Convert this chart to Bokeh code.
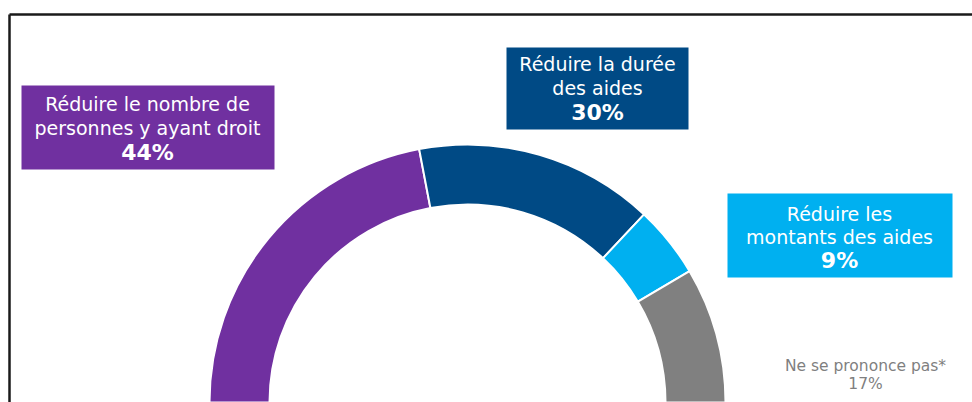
import math
from bokeh.plotting import figure
from bokeh.models import Range1d, ColumnDataSource
from bokeh.core.properties import value
from bokeh.embed import file_html
from bokeh.resources import INLINE

# ---- data ----
categories = ["Réduire le nombre de\npersonnes y ayant droit",
              "Réduire la durée\ndes aides",
              "Réduire les\nmontants des aides",
              "Ne se prononce pas*"]
shares = [44, 30, 9, 17]
pct_labels = ["44%", "30%", "9%", "17%"]
colors = ["#7030A0", "#004A85", "#00B0F0", "#808080"]

W, H = 972, 402
FONT = value("DejaVu Sans")

def px(X):  # reference pixel x -> data x
    return X

def py(Y):  # reference pixel y -> data y
    return H - Y

p = figure(width=W, height=H, output_backend="svg", toolbar_location=None,
           x_range=Range1d(0, W), y_range=Range1d(0, H), min_border=0)
p.axis.visible = False
p.grid.visible = False
p.outline_line_color = None
p.background_fill_color = "white"

# half donut
total = sum(shares)
starts, ends = [], []
cum = 0
for s in shares:
    ends.append(math.pi * (1 - cum / total))
    cum += s
    starts.append(math.pi * (1 - cum / total))
src = ColumnDataSource(dict(start=starts, end=ends, color=colors))
p.annular_wedge(x=px(467), y=py(402), inner_radius=198, outer_radius=258,
                start_angle="start", end_angle="end", fill_color="color",
                line_color="white", line_width=2, source=src)

# frame lines
p.segment(x0=[px(9), px(9)], y0=[py(14), py(14)], x1=[W, px(9)], y1=[py(14), 0],
          line_color="#1a1a1a", line_width=2.5)

# label boxes (layout)
boxes = [(21, 274, 85, 169), (506, 688, 47, 129), (727, 952, 193, 277)]
for (x0, x1, y0, y1), c in zip(boxes, colors[:3]):
    p.quad(left=px(x0), right=px(x1), top=py(y0), bottom=py(y1),
           fill_color=c, line_color=None)

# box texts
line_pos = [(147, [103, 127]), (597, [63, 87]), (839, [213, 236])]
pct_pos = [(147, 152), (597, 112), (839, 260)]
for i in range(3):
    cx, ys = line_pos[i]
    lines = categories[i].split("\n")
    p.text(x=[px(cx)] * len(lines), y=[py(y) for y in ys], text=lines,
           text_align="center", text_baseline="middle", text_color="white",
           text_font=FONT, text_font_size="19px")
    pcx, pcy = pct_pos[i]
    p.text(x=[px(pcx)], y=[py(pcy)], text=[pct_labels[i]],
           text_align="center", text_baseline="middle", text_color="white",
           text_font=FONT, text_font_size="22px", text_font_style="bold")

# gray label
p.text(x=[px(865), px(865)], y=[py(365), py(383)],
       text=[categories[3], pct_labels[3]],
       text_align="center", text_baseline="middle", text_color="#7f7f7f",
       text_font=FONT, text_font_size="15.5px")

open("out.html", "w").write(file_html(p, INLINE))
